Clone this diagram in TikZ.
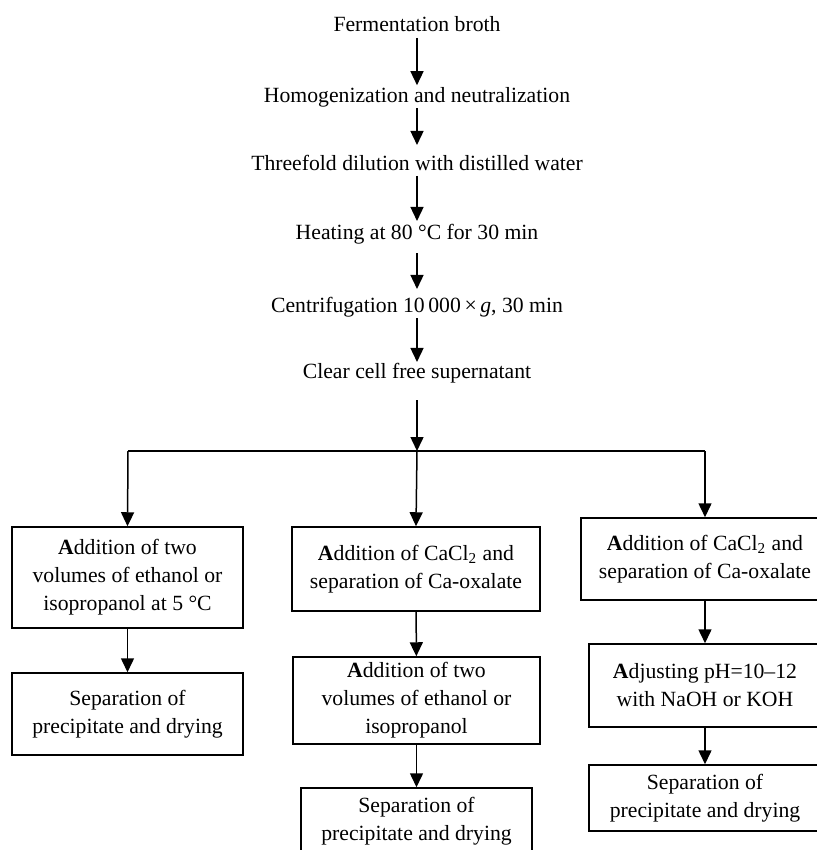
\documentclass[tikz,border=0pt]{standalone}
\usepackage{fontspec}
\setmainfont{Liberation Serif}
\usetikzlibrary{arrows.meta}
\begin{document}
\begin{tikzpicture}[x=0.5pt,y=-0.5pt,line width=0.75pt,
		>={Triangle[length=7pt,width=6.5pt]},
		txt/.style={inner sep=0pt,anchor=base,font=\fontsize{10.85}{14}\selectfont},
		stepbox/.style={draw,align=center,inner sep=0pt,font=\fontsize{10.85}{14}\selectfont}]
			\useasboundingbox (0,0) rectangle (817,850);
			\clip (0,0) rectangle (817,850);
			% main line
			\node[txt] (broth) at (417,32) {Fermentation broth};
			\node[txt] (homog) at (417,103) {Homogenization and neutralization};
			\node[txt] (dilut) at (417,171) {Threefold dilution with distilled water};
			\node[txt] (heat) at (417,239) {Heating at 80 °C for 30 min};
			\node[txt] (centr) at (417,312) {Centrifugation 10\,000\,×\,\textit{g}, 30 min};
			\node[txt] (super) at (417,378) {Clear cell free supernatant};
			\coordinate (split) at (417,451);
			\coordinate (splitl) at (128,451);
			\coordinate (splitr) at (705,451);
			% left branch
			\node[stepbox,minimum width=115.5pt,minimum height=50.5pt] (left1) at (127.5,577.5) {\textbf{A}ddition of two\\volumes of ethanol or\\isopropanol at 5 °C};
			\node[stepbox,minimum width=115.5pt,minimum height=41pt] (left2) at (127.5,714) {Separation of\\precipitate and drying};
			% middle branch
			\node[stepbox,minimum width=124pt,minimum height=42pt] (mid1) at (416,569) {\textbf{A}ddition of CaCl\textsubscript{2} and\\separation of Ca-oxalate};
			\node[stepbox,minimum width=123.5pt,minimum height=43.5pt] (mid2) at (416.5,700.5) {\textbf{A}ddition of two\\volumes of ethanol or\\isopropanol};
			\node[stepbox,minimum width=115.5pt,minimum height=33pt] (mid3) at (416.5,821) {Separation of\\precipitate and drying};
			% right branch
			\node[stepbox,minimum width=124pt,minimum height=41pt] (right1) at (705,559) {\textbf{A}ddition of CaCl\textsubscript{2} and\\separation of Ca-oxalate};
			\node[stepbox,minimum width=116pt,minimum height=41.5pt] (right2) at (705,685.5) {\textbf{A}djusting pH=10–12\\with NaOH or KOH};
			\node[stepbox,minimum width=116pt,minimum height=33pt] (right3) at (705,798) {Separation of\\precipitate and drying};
			% arrows
			\draw[->,shorten <=2.5pt,shorten >=1pt] (broth.south) -- (homog.north);
			\draw[->,shorten >=5pt] (homog.south) -- (dilut.north);
			\draw[->,shorten <=2pt,shorten >=1pt] (dilut.south) -- (heat.north);
			\draw[->,shorten <=4.5pt,shorten >=3.5pt] (heat.south) -- (centr.north);
			\draw[->,shorten <=0.5pt] (centr.south) -- (super.north);
			\draw[->,shorten <=8.5pt] (super.south) -- (split);
			\draw (splitl) -- (splitr);
			\draw[->] (splitl) -- (left1.north);
			\draw[->] (split) -- (mid1.north);
			\draw[->] (splitr) -- (right1.north);
			\draw[->] (left1) -- (left2);
			\draw[->] (mid1) -- (mid2);
			\draw[->] (mid2) -- (mid3);
			\draw[->] (right1) -- (right2);
			\draw[->] (right2) -- (right3);
		\end{tikzpicture}
\end{document}
